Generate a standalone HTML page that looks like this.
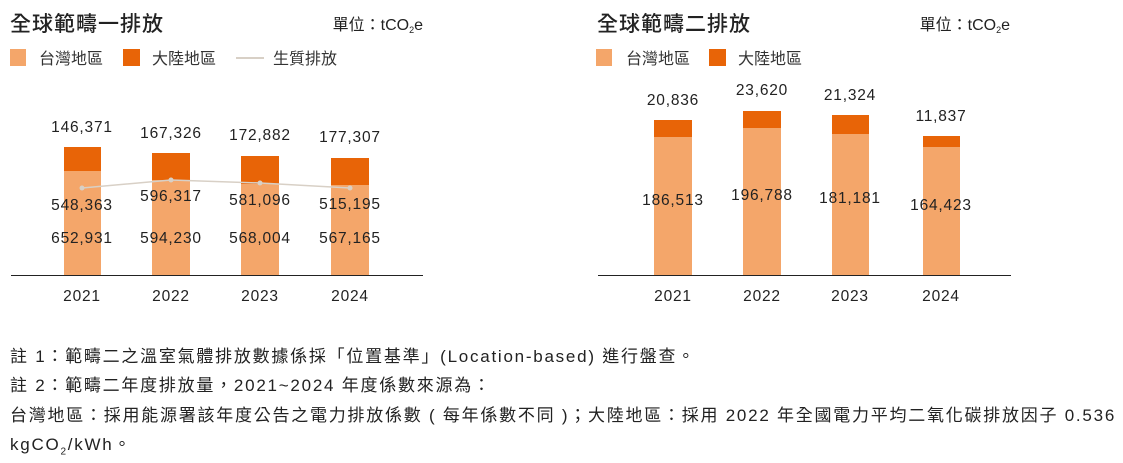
<!DOCTYPE html>
<html><head><meta charset="utf-8"><style>
body{margin:0;background:#fff;width:1123px;height:463px;overflow:hidden;font-family:"Liberation Sans","Noto Sans CJK TC",sans-serif;color:#222}
.n{position:absolute;left:10px;font-size:17px;letter-spacing:1.75px;white-space:nowrap;line-height:20px}
</style></head><body>
<svg width="1123" height="330" style="position:absolute;left:0;top:0" font-family="Liberation Sans, Noto Sans CJK TC, sans-serif">
<g fill="#222">
<text x="10" y="31" font-size="21" font-weight="500" letter-spacing="1">全球範疇一排放</text>
<text x="423" y="30" font-size="16" text-anchor="end">單位：tCO<tspan font-size="9" dy="3">2</tspan><tspan dy="-3">e</tspan></text>
<text x="597" y="31" font-size="21" font-weight="500" letter-spacing="1">全球範疇二排放</text>
<text x="1010" y="30" font-size="16" text-anchor="end">單位：tCO<tspan font-size="9" dy="3">2</tspan><tspan dy="-3">e</tspan></text>
</g>
<g font-size="16" fill="#333">
<rect x="10" y="49" width="16" height="17" fill="#f4a66a"/><text x="39" y="64">台灣地區</text>
<rect x="123" y="49" width="17" height="17" fill="#e86407"/><text x="152" y="64">大陸地區</text>
<line x1="236" y1="58" x2="264" y2="58" stroke="#d8d0c6" stroke-width="2"/><text x="273" y="64">生質排放</text>
<rect x="596" y="49" width="16" height="17" fill="#f4a66a"/><text x="626" y="64">台灣地區</text>
<rect x="709" y="49" width="17" height="17" fill="#e86407"/><text x="738" y="64">大陸地區</text>
</g>
<g fill="#f4a66a">
<rect x="64" y="171" width="37" height="104"/><rect x="152" y="180" width="38" height="95"/><rect x="241" y="184" width="38" height="91"/><rect x="331" y="185" width="38" height="90"/>
<rect x="654" y="137" width="38" height="138"/><rect x="743" y="128" width="38" height="147"/><rect x="832" y="134" width="37" height="141"/><rect x="923" y="147" width="37" height="128"/>
</g>
<g fill="#e86407">
<rect x="64" y="147" width="37" height="24"/><rect x="152" y="153" width="38" height="27"/><rect x="241" y="156" width="38" height="28"/><rect x="331" y="158" width="38" height="27"/>
<rect x="654" y="120" width="38" height="17"/><rect x="743" y="111" width="38" height="17"/><rect x="832" y="115" width="37" height="19"/><rect x="923" y="136" width="37" height="11"/>
</g>
<polyline points="82,188 171,180 260,183 350,188" fill="none" stroke="#d8d0c6" stroke-width="1.5"/>
<g fill="#d8d0c6"><circle cx="82" cy="188" r="2.5"/><circle cx="171" cy="180" r="2.5"/><circle cx="260" cy="183" r="2.5"/><circle cx="350" cy="188" r="2.5"/></g>
<line x1="11" y1="275.5" x2="423" y2="275.5" stroke="#222"/>
<line x1="598" y1="275.5" x2="1011" y2="275.5" stroke="#222"/>
<g font-size="15.5" fill="#222" text-anchor="middle" letter-spacing="0.8">
<text x="82" y="132">146,371</text><text x="171" y="138">167,326</text><text x="260" y="140">172,882</text><text x="350" y="142">177,307</text>
<text x="82" y="210">548,363</text><text x="171" y="201">596,317</text><text x="260" y="205">581,096</text><text x="350" y="209">515,195</text>
<text x="82" y="243">652,931</text><text x="171" y="243">594,230</text><text x="260" y="243">568,004</text><text x="350" y="243">567,165</text>
<text x="82" y="301">2021</text><text x="171" y="301">2022</text><text x="260" y="301">2023</text><text x="350" y="301">2024</text>
<text x="673" y="105">20,836</text><text x="762" y="95">23,620</text><text x="850" y="100">21,324</text><text x="941" y="121">11,837</text>
<text x="673" y="205">186,513</text><text x="762" y="200">196,788</text><text x="850" y="203">181,181</text><text x="941" y="210">164,423</text>
<text x="673" y="301">2021</text><text x="762" y="301">2022</text><text x="850" y="301">2023</text><text x="941" y="301">2024</text>
</g>
</svg>
<div class="n" style="top:347px">註 1：範疇二之溫室氣體排放數據係採「位置基準」(Location-based) 進行盤查。</div>
<div class="n" style="top:376px">註 2：範疇二年度排放量，2021~2024 年度係數來源為：</div>
<div class="n" style="top:406px">台灣地區：採用能源署該年度公告之電力排放係數 ( 每年係數不同 )；大陸地區：採用 2022 年全國電力平均二氧化碳排放因子 0.536</div>
<div class="n" style="top:435px">kgCO<sub style="font-size:10px">2</sub>/kWh。</div>
</body></html>
